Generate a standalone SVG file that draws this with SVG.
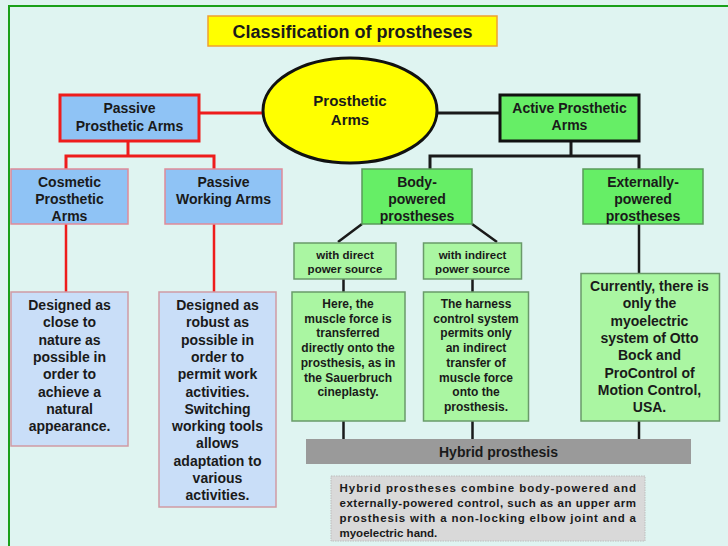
<svg xmlns="http://www.w3.org/2000/svg" width="728" height="546" viewBox="0 0 728 546">
<style>
text{font-family:"Liberation Sans",Arial,sans-serif;font-weight:bold;fill:#1a1a1a;text-anchor:middle}
.t14{font-size:14px}
.t12{font-size:12px}
.t11{font-size:11.5px}
.blue{fill:#8fc3f5;stroke:#e08a98;stroke-width:1.5}
.lblue{fill:#c9def8;stroke:#d09aa4;stroke-width:1.5}
.green{fill:#66ee66;stroke:#5a9a5a;stroke-width:1.5}
.lgreen{fill:#aaf6a2;stroke:#6a9a6a;stroke-width:1.5}
.red{stroke:#ee1c1c;stroke-width:3;fill:none}
.blk{stroke:#1a1a1a;stroke-width:3;fill:none}
</style>
<rect x="0" y="0" width="728" height="546" fill="#dff4f1"/>
<path d="M9 546 V6 H728" fill="none" stroke="#1aa01a" stroke-width="2"/>
<g id="title">
<rect x="208" y="16" width="289" height="30" fill="#ffff00" stroke="#f0a030" stroke-width="1.5"/>
<text x="352.5" y="37.5" style="font-size:18px">Classification of prostheses</text>
</g>
<g id="connectors">
<path class="red" d="M263 113 H199"/>
<path class="red" d="M128 141 V156 M66 169 V156 H214 V169"/>
<path class="red" d="M66 224 V292 M214 224 V292" style="stroke-width:2.5"/>
<path class="blk" d="M436 113 H500"/>
<path class="blk" d="M571 141 V156 M430 169 V156 H639 V169"/>
<path class="blk" d="M362 224 L338 242 M472 224 L497 242" style="stroke-width:2.5"/>
<path class="blk" d="M343.5 279 V292 M472.5 279 V292 M639 224 V273" style="stroke-width:2.5"/>
<path class="blk" d="M343.5 421 V439 M472.5 421 V439 M639 421 V439" style="stroke-width:2.5"/>
</g>
<g id="root">
<ellipse cx="350" cy="110.5" rx="87" ry="52.5" fill="#ffff00" stroke="#111" stroke-width="3"/>
<text x="350" y="106" style="font-size:15px">Prosthetic</text>
<text x="350" y="125" style="font-size:15px">Arms</text>
</g>
<g id="passive">
<rect x="60" y="95" width="139" height="46" fill="#8fc3f5" stroke="#ee1c1c" stroke-width="3"/>
<text class="t14" x="129.5" y="113">Passive</text>
<text class="t14" x="129.5" y="131">Prosthetic Arms</text>
</g>
<g id="cosmetic">
<rect class="blue" x="11" y="169" width="117" height="55"/>
<text class="t14" x="69.5" y="187">Cosmetic</text>
<text class="t14" x="69.5" y="204">Prosthetic</text>
<text class="t14" x="69.5" y="221">Arms</text>
</g>
<g id="passiveWorking">
<rect class="blue" x="165" y="169" width="117" height="55"/>
<text class="t14" x="223.5" y="187">Passive</text>
<text class="t14" x="223.5" y="204">Working Arms</text>
</g>
<g id="cosmeticDesc">
<rect class="lblue" x="11" y="292" width="117" height="154"/>
<text class="t14" x="69.5" y="310">Designed as</text>
<text class="t14" x="69.5" y="327.3">close to</text>
<text class="t14" x="69.5" y="344.6">nature as</text>
<text class="t14" x="69.5" y="361.9">possible in</text>
<text class="t14" x="69.5" y="379.2">order to</text>
<text class="t14" x="69.5" y="396.5">achieve a</text>
<text class="t14" x="69.5" y="413.8">natural</text>
<text class="t14" x="69.5" y="431.1">appearance.</text>
</g>
<g id="workingDesc">
<rect class="lblue" x="159" y="292" width="117" height="215"/>
<text class="t14" x="217.5" y="310">Designed as</text>
<text class="t14" x="217.5" y="327.3">robust as</text>
<text class="t14" x="217.5" y="344.6">possible in</text>
<text class="t14" x="217.5" y="361.9">order to</text>
<text class="t14" x="217.5" y="379.2">permit work</text>
<text class="t14" x="217.5" y="396.5">activities.</text>
<text class="t14" x="217.5" y="413.8">Switching</text>
<text class="t14" x="217.5" y="431.1">working tools</text>
<text class="t14" x="217.5" y="448.4">allows</text>
<text class="t14" x="217.5" y="465.7">adaptation to</text>
<text class="t14" x="217.5" y="483">various</text>
<text class="t14" x="217.5" y="500.3">activities.</text>
</g>
<g id="active">
<rect x="500" y="95" width="139" height="46" fill="#66ee66" stroke="#111" stroke-width="3"/>
<text class="t14" x="569.5" y="113">Active Prosthetic</text>
<text class="t14" x="569.5" y="130">Arms</text>
</g>
<g id="bodyPowered">
<rect class="green" x="362" y="169" width="110" height="55"/>
<text class="t14" x="417" y="187">Body-</text>
<text class="t14" x="417" y="204">powered</text>
<text class="t14" x="417" y="221">prostheses</text>
</g>
<g id="externally">
<rect class="green" x="583" y="169" width="120" height="55"/>
<text class="t14" x="643" y="187">Externally-</text>
<text class="t14" x="643" y="204">powered</text>
<text class="t14" x="643" y="221">prostheses</text>
</g>
<g id="direct">
<rect class="lgreen" x="294" y="243" width="102" height="36"/>
<text class="t11" x="345" y="259">with direct</text>
<text class="t11" x="345" y="273">power source</text>
</g>
<g id="indirect">
<rect class="lgreen" x="423.5" y="243" width="98" height="36"/>
<text class="t11" x="472.5" y="259">with indirect</text>
<text class="t11" x="472.5" y="273">power source</text>
</g>
<g id="directDesc">
<rect class="lgreen" x="292" y="292" width="113" height="129"/>
<text class="t12" x="348" y="308">Here, the</text>
<text class="t12" x="348" y="322.7">muscle force is</text>
<text class="t12" x="348" y="337.4">transferred</text>
<text class="t12" x="348" y="352.1">directly onto the</text>
<text class="t12" x="348" y="366.8">prosthesis, as in</text>
<text class="t12" x="348" y="381.5">the Sauerbruch</text>
<text class="t12" x="348" y="396.2">cineplasty.</text>
</g>
<g id="indirectDesc">
<rect class="lgreen" x="423.5" y="292" width="105" height="129"/>
<text class="t12" x="476" y="308">The harness</text>
<text class="t12" x="476" y="322.7">control system</text>
<text class="t12" x="476" y="337.4">permits only</text>
<text class="t12" x="476" y="352.1">an indirect</text>
<text class="t12" x="476" y="366.8">transfer of</text>
<text class="t12" x="476" y="381.5">muscle force</text>
<text class="t12" x="476" y="396.2">onto the</text>
<text class="t12" x="476" y="410.9">prosthesis.</text>
</g>
<g id="externallyDesc">
<rect class="lgreen" x="581" y="273.5" width="138.5" height="147.5"/>
<text class="t14" x="649.5" y="291">Currently, there is</text>
<text class="t14" x="649.5" y="308.3">only the</text>
<text class="t14" x="649.5" y="325.6">myoelectric</text>
<text class="t14" x="649.5" y="342.9">system of Otto</text>
<text class="t14" x="649.5" y="360.2">Bock and</text>
<text class="t14" x="649.5" y="377.5">ProControl of</text>
<text class="t14" x="649.5" y="394.8">Motion Control,</text>
<text class="t14" x="649.5" y="412.1">USA.</text>
</g>
<g id="hybrid">
<rect x="306" y="439" width="385" height="25" fill="#9a9a9a"/>
<text class="t14" x="498.5" y="457">Hybrid prosthesis</text>
</g>
<g id="hybridDesc">
<rect x="331" y="476" width="314" height="65" fill="#d9d9d9" stroke="#bdbdbd" stroke-width="1" stroke-dasharray="1.5 1"/>
<text class="t11" x="339.5" y="491.5" style="text-anchor:start" textLength="296.5" lengthAdjust="spacing">Hybrid prostheses combine body-powered and</text>
<text class="t11" x="339.5" y="506.5" style="text-anchor:start" textLength="296.5" lengthAdjust="spacing">externally-powered control, such as an upper arm</text>
<text class="t11" x="339.5" y="521.5" style="text-anchor:start" textLength="296.5" lengthAdjust="spacing">prosthesis with a non-locking elbow joint and a</text>
<text class="t11" x="339.5" y="536.5" style="text-anchor:start">myoelectric hand.</text>
</g>
</svg>
